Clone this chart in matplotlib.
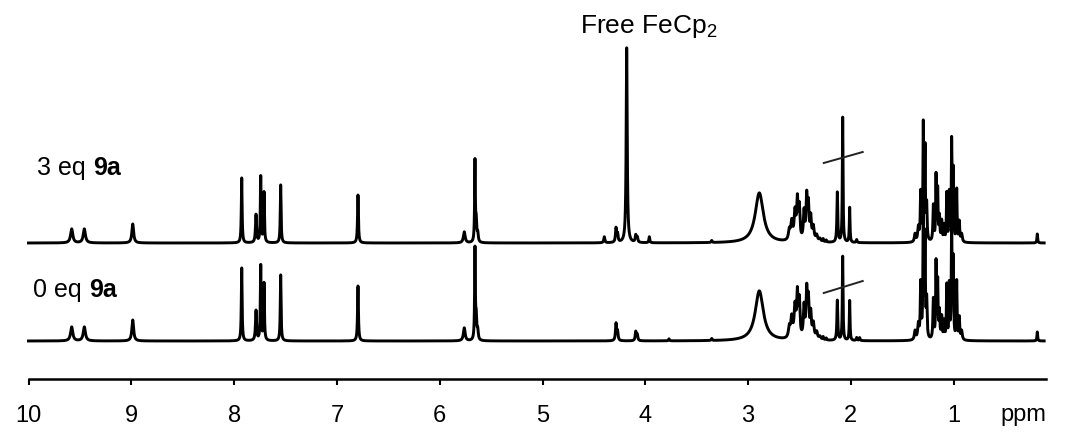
import numpy as np
import matplotlib.pyplot as plt

plt.rcParams['font.family'] = ['Liberation Sans', 'DejaVu Sans']
plt.rcParams['mathtext.fontset'] = 'custom'
plt.rcParams['mathtext.rm'] = 'Liberation Sans'

# peak lists
# shift (ppm), height (px above baseline), line width (ppm)
top_shift = [9.580, 9.457, 8.986, 7.926, 7.787, 7.741, 7.709, 7.547, 6.795,
             5.761, 5.657, 5.645, 5.630, 4.399, 4.285, 4.270, 4.181, 4.093,
             4.078, 3.961, 3.354, 2.891,
             2.599, 2.576, 2.544, 2.521, 2.502, 2.456, 2.430, 2.414, 2.391,
             2.366, 2.333, 2.301, 2.270, 2.240, 2.132, 2.080, 2.012, 1.944,
             1.376, 1.344, 1.321, 1.296, 1.279, 1.263, 1.198, 1.172, 1.156,
             1.139, 1.117, 1.094, 1.068, 1.043, 1.020, 1.004, 0.971, 0.946,
             0.923, 0.187]
top_height = [14, 14, 19, 65, 28, 66, 50, 58, 48,
              11, 80, 20, 8, 6, 14, 8, 195, 7,
              5, 6, 2, 50,
              10, 18, 28, 38, 32, 28, 42, 33, 22,
              14, 6, 3, 3, 2, 50, 125, 35, 3,
              8, 14, 48, 115, 90, 35, 36, 65, 50,
              24, 20, 16, 48, 48, 100, 70, 52, 20,
              8, 9]
top_width = [0.025, 0.025, 0.02, 0.009, 0.012, 0.009, 0.009, 0.009, 0.01,
             0.02, 0.008, 0.012, 0.012, 0.012, 0.012, 0.012, 0.012, 0.012,
             0.012, 0.01, 0.01, 0.095,
             0.02, 0.02, 0.02, 0.015, 0.015, 0.015, 0.015, 0.015, 0.015,
             0.02, 0.02, 0.02, 0.01, 0.01, 0.01, 0.008, 0.008, 0.01,
             0.015, 0.015, 0.01, 0.008, 0.008, 0.01, 0.01, 0.008, 0.008,
             0.01, 0.01, 0.01, 0.008, 0.008, 0.008, 0.008, 0.008, 0.01,
             0.015, 0.008]

bottom_shift = [9.580, 9.457, 8.986, 7.926, 7.787, 7.741, 7.709, 7.547, 6.795,
                5.761, 5.657, 5.645, 5.630, 4.285, 4.270, 4.093, 4.078, 3.770,
                3.354, 2.891,
                2.599, 2.576, 2.544, 2.521, 2.502, 2.456, 2.430, 2.414, 2.391,
                2.366, 2.333, 2.301, 2.270, 2.240, 2.132, 2.080, 2.012, 1.944,
                1.915,
                1.376, 1.344, 1.321, 1.296, 1.279, 1.263, 1.198, 1.172, 1.156,
                1.139, 1.117, 1.094, 1.068, 1.043, 1.020, 1.004, 0.971, 0.946,
                0.923, 0.187]
bottom_height = [14, 14, 21, 73, 30, 75, 57, 66, 55,
                 13, 90, 22, 9, 17, 9, 9, 6, 2,
                 2, 50,
                 11, 20, 31, 42, 36, 31, 46, 36, 24,
                 15, 7, 3, 3, 2, 40, 84, 40, 3,
                 3,
                 9, 15, 55, 135, 100, 38, 40, 76, 56,
                 27, 22, 18, 54, 54, 120, 78, 58, 22,
                 9, 9]
bottom_width = [0.025, 0.025, 0.02, 0.009, 0.012, 0.009, 0.009, 0.009, 0.01,
                0.02, 0.008, 0.012, 0.012, 0.012, 0.012, 0.012, 0.012, 0.01,
                0.01, 0.095,
                0.02, 0.02, 0.02, 0.015, 0.015, 0.015, 0.015, 0.015, 0.015,
                0.02, 0.02, 0.02, 0.01, 0.01, 0.01, 0.008, 0.008, 0.01,
                0.01,
                0.015, 0.015, 0.01, 0.008, 0.008, 0.01, 0.01, 0.008, 0.008,
                0.01, 0.01, 0.01, 0.008, 0.008, 0.008, 0.008, 0.008, 0.01,
                0.015, 0.008]

top_baseline = 136
bottom_baseline = 38

tick_ppm = [10, 9, 8, 7, 6, 5, 4, 3, 2, 1]
tick_labels = ['10', '9', '8', '7', '6', '5', '4', '3', '2', '1']

# truncation marks across the 2.08 ppm peak: (ppm, px) end points
top_break_x = [2.264, 1.885]
top_break_y = [216, 227]
bottom_break_x = [2.264, 1.885]
bottom_break_y = [86, 98]


def spectrum(ppm, shifts, heights, widths):
    """Sum of Lorentzian lines"""
    y = np.zeros_like(ppm)
    for s, h, w in zip(shifts, heights, widths):
        g = (w / 2) ** 2
        y += h * g / ((ppm - s) ** 2 + g)
    return y


ppm = np.linspace(10, 0.12, 40000)

fig = plt.figure(figsize=(10.69, 4.37), dpi=100)
ax = fig.add_axes([0, 58 / 437, 1, 379 / 437])
ax.set_xlim(10 + 28.5 / 102.8, 10 - 1040.5 / 102.8)
ax.set_ylim(0, 379)

ax.plot(ppm, top_baseline + spectrum(ppm, top_shift, top_height, top_width),
        color='black', lw=2.1, solid_joinstyle='round')
ax.plot(ppm, bottom_baseline + spectrum(ppm, bottom_shift, bottom_height,
                                        bottom_width),
        color='black', lw=2.1, solid_joinstyle='round')
ax.plot(top_break_x, top_break_y, color='#222222', lw=1.4)
ax.plot(bottom_break_x, bottom_break_y, color='#222222', lw=1.4)

for side in ['top', 'left', 'right']:
    ax.spines[side].set_visible(False)
ax.spines['bottom'].set_linewidth(1.8)
ax.spines['bottom'].set_bounds(10, 0.10)
ax.set_yticks([])
ax.set_xticks(tick_ppm)
ax.set_xticklabels(tick_labels)
ax.tick_params(axis='x', direction='out', length=4.5, width=1.5,
               labelsize=17, pad=14)
ax.patch.set_visible(False)

ax.text(0.55, -42, 'ppm', fontsize=17, va='baseline', ha='left',
        clip_on=False)

t1 = ax.text(9.917, 204, '3 eq ', fontsize=18, va='baseline')
ax.annotate('9a', xy=(1, 0), xycoords=t1, va='bottom', ha='left',
            fontsize=18, fontweight='bold')
t2 = ax.text(9.953, 82, '0 eq ', fontsize=18, va='baseline')
ax.annotate('9a', xy=(1, 0), xycoords=t2, va='bottom', ha='left',
            fontsize=18, fontweight='bold')

ax.text(4.635, 346, 'Free FeCp$_2$', fontsize=19, va='baseline')

fig.savefig('out.png', dpi=100)
